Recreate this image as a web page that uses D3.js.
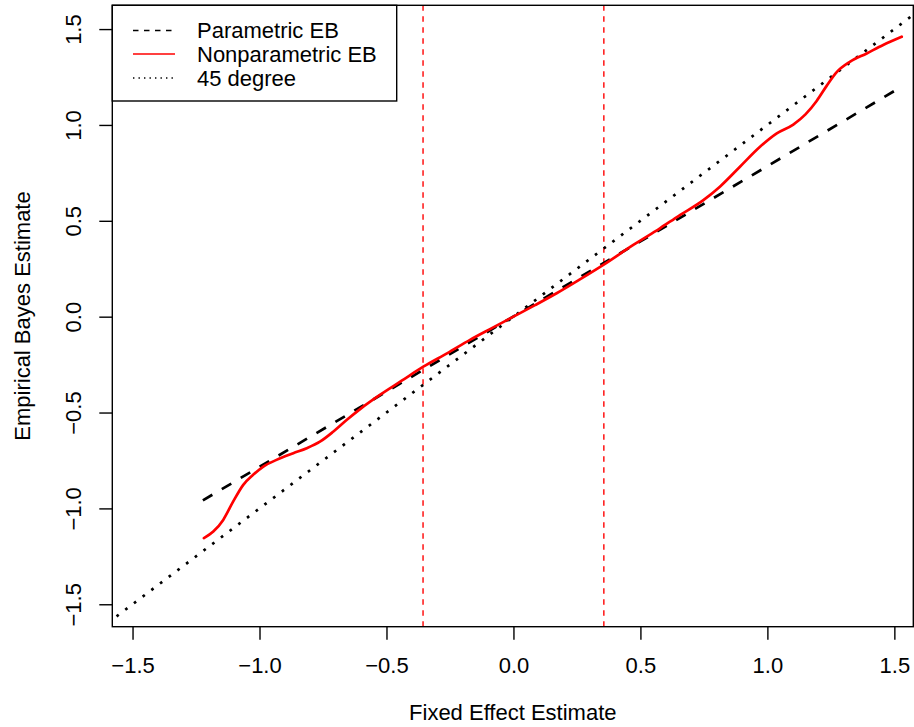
<!DOCTYPE html>
<html>
<head>
<meta charset="utf-8">
<script src="https://cdn.jsdelivr.net/npm/d3@7"></script>
<style>
  html, body { margin: 0; padding: 0; background: #fff; }
  svg { display: block; font-family: "Liberation Sans", Arial, Helvetica, sans-serif; }
</style>
</head>
<body>
<svg id="chart" width="914" height="727"></svg>
<script>
// Fixed-effect vs. empirical Bayes estimates
const xTicks = [-1.5, -1.0, -0.5, 0.0, 0.5, 1.0, 1.5];
const yTicks = [-1.5, -1.0, -0.5, 0.0, 0.5, 1.0, 1.5];

// Nonparametric EB curve (fixed effect -> EB estimate)
const npX = [-1.219, -1.182, -1.143, -1.104, -1.064, -1.025, -0.985, -0.933, -0.867, -0.814,
             -0.762, -0.710, -0.657, -0.600, -0.526, -0.440, -0.355, -0.260, -0.171, -0.085,
              0.000,  0.085,  0.170,  0.260,  0.354,  0.472,  0.577,  0.650,  0.748,  0.813,
              0.892,  0.971,  1.037,  1.102,  1.150,  1.194,  1.234,  1.273,  1.326,  1.391,
              1.456,  1.529];
const npY = [-1.155, -1.121, -1.060, -0.965, -0.877, -0.825, -0.782, -0.747, -0.712, -0.686,
             -0.652, -0.600, -0.539, -0.478, -0.408, -0.334, -0.261, -0.190, -0.121, -0.060,
              0.000,  0.060,  0.122,  0.193,  0.270,  0.374,  0.461,  0.525,  0.608,  0.678,
              0.782,  0.886,  0.956,  1.002,  1.055,  1.125,  1.205,  1.275,  1.330,  1.373,
              1.417,  1.460];

// Parametric EB line (endpoints)
const paramX = [-1.223, 1.533];
const paramY = [-0.958, 1.203];

// 45 degree reference line
const diagX = [-1.7, 1.7];
const diagY = [-1.7, 1.7];

// Vertical reference lines
const vlineX = [-0.356, 0.356];

const legendLabels = ["Parametric EB", "Nonparametric EB", "45 degree"];

const svg = d3.select("#chart");
const plot = { left: 112.3, right: 913.3, top: 5.3, bottom: 626.7 };

const x = d3.scaleLinear().domain([-1.5797, 1.5746]).range([plot.left, plot.right]);
const y = d3.scaleLinear().domain([-1.617, 1.624]).range([plot.bottom, plot.top]);

const fmt = d3.format(".1f");
const fontSize = 22;

svg.append("defs").append("clipPath").attr("id", "plotClip")
  .append("rect")
  .attr("x", plot.left).attr("y", plot.top)
  .attr("width", plot.right - plot.left).attr("height", plot.bottom - plot.top);

const g = svg.append("g").attr("clip-path", "url(#plotClip)");

// vertical dashed lines
g.selectAll("line.vline").data(vlineX).join("line")
  .attr("class", "vline")
  .attr("x1", d => x(d)).attr("x2", d => x(d))
  .attr("y1", plot.top).attr("y2", plot.bottom)
  .attr("stroke", "#ff0000").attr("stroke-width", 1.4)
  .attr("stroke-dasharray", "5.5 5.5");

// 45 degree dotted line
g.append("path")
  .datum(d3.zip(diagX, diagY))
  .attr("d", d3.line().x(d => x(d[0])).y(d => y(d[1])))
  .attr("fill", "none").attr("stroke", "#000").attr("stroke-width", 2.7)
  .attr("stroke-dasharray", "2.7 8.2");

// parametric dashed line
g.append("path")
  .datum(d3.zip(paramX, paramY))
  .attr("d", d3.line().x(d => x(d[0])).y(d => y(d[1])))
  .attr("fill", "none").attr("stroke", "#000").attr("stroke-width", 2.7)
  .attr("stroke-dasharray", "11 11");

// nonparametric curve
g.append("path")
  .datum(d3.zip(npX, npY))
  .attr("d", d3.line().x(d => x(d[0])).y(d => y(d[1])).curve(d3.curveMonotoneX))
  .attr("fill", "none").attr("stroke", "#ff0000").attr("stroke-width", 2.7)
  .attr("stroke-linejoin", "round").attr("stroke-linecap", "round");

// axes
const xAxis = svg.append("g")
  .attr("transform", `translate(0,${plot.bottom})`)
  .call(d3.axisBottom(x).tickValues(xTicks).tickFormat(fmt).tickSize(13).tickSizeOuter(0));
xAxis.select(".domain").remove();
xAxis.selectAll(".tick line").attr("stroke", "#000").attr("stroke-width", 1.4);
xAxis.selectAll(".tick text")
  .attr("y", 38.5).attr("dy", "0.35em")
  .attr("font-size", fontSize).attr("fill", "#000");

const yAxis = svg.append("g")
  .attr("transform", `translate(${plot.left},0)`)
  .call(d3.axisLeft(y).tickValues(yTicks).tickFormat(fmt).tickSize(13).tickSizeOuter(0));
yAxis.select(".domain").remove();
yAxis.selectAll(".tick line").attr("stroke", "#000").attr("stroke-width", 1.4);
yAxis.selectAll(".tick text")
  .attr("x", 0).attr("dy", null)
  .attr("transform", "translate(-38.5,0) rotate(-90)")
  .attr("text-anchor", "middle").attr("dominant-baseline", "central")
  .attr("font-size", fontSize).attr("fill", "#000");
svg.selectAll(".tick text").attr("font-family", "Liberation Sans, Arial, sans-serif");

// plot box
svg.append("rect")
  .attr("x", plot.left).attr("y", plot.top)
  .attr("width", plot.right - plot.left).attr("height", plot.bottom - plot.top)
  .attr("fill", "none").attr("stroke", "#000").attr("stroke-width", 1.4);

// axis titles
svg.append("text")
  .attr("x", (plot.left + plot.right) / 2).attr("y", 712)
  .attr("text-anchor", "middle").attr("dominant-baseline", "central")
  .attr("font-size", fontSize).text("Fixed Effect Estimate");
svg.append("text")
  .attr("transform", `translate(22,${(plot.top + plot.bottom) / 2}) rotate(-90)`)
  .attr("text-anchor", "middle").attr("dominant-baseline", "central")
  .attr("font-size", fontSize).text("Empirical Bayes Estimate");

// legend
const legend = svg.append("g");
legend.append("rect")
  .attr("x", plot.left).attr("y", plot.top)
  .attr("width", 396.7 - plot.left).attr("height", 101 - plot.top)
  .attr("fill", "#fff").attr("stroke", "#000").attr("stroke-width", 1.4);
const legendStyles = [
  { color: "#000", dash: "5.5 5.5" },
  { color: "#ff0000", dash: null },
  { color: "#000", dash: "1.4 4.1" }
];
const rowY = [30.5, 54, 78];
const items = legend.selectAll("g.item").data(legendLabels).join("g").attr("class", "item");
items.append("line")
  .attr("x1", 133).attr("x2", 175)
  .attr("y1", (d, i) => rowY[i]).attr("y2", (d, i) => rowY[i])
  .attr("stroke", (d, i) => legendStyles[i].color).attr("stroke-width", 1.4)
  .attr("stroke-dasharray", (d, i) => legendStyles[i].dash);
items.append("text")
  .attr("x", 197).attr("y", (d, i) => rowY[i])
  .attr("dominant-baseline", "central")
  .attr("font-size", fontSize).text(d => d);
</script>
</body>
</html>
